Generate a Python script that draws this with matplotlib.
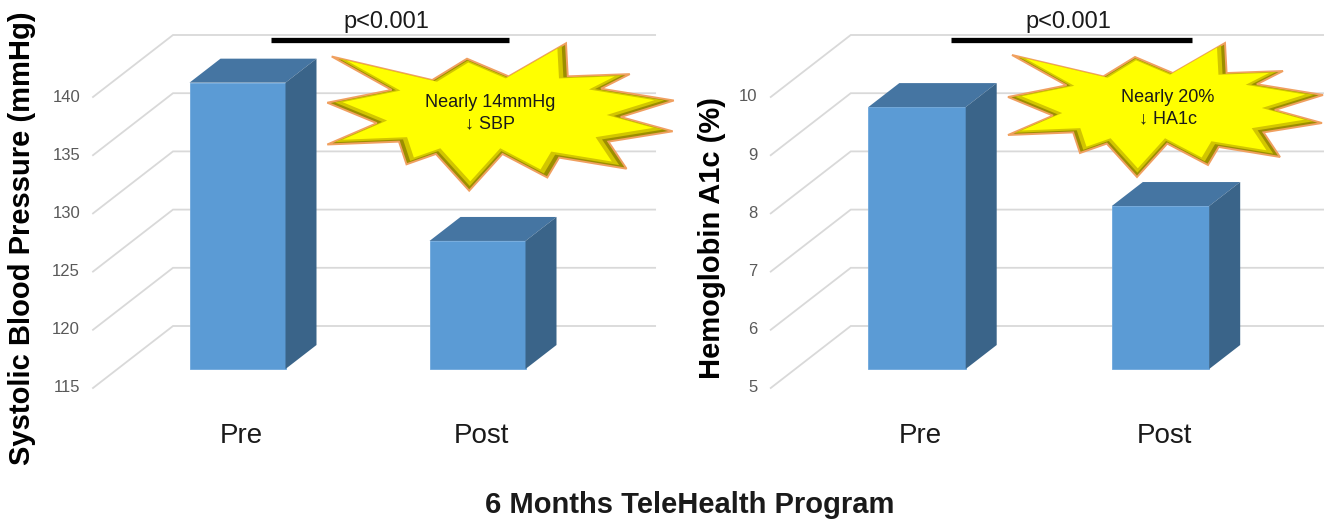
import matplotlib
matplotlib.use("Agg")
import matplotlib.pyplot as plt
from matplotlib.patches import Polygon

plt.rcParams['font.family'] = ['Liberation Sans', 'DejaVu Sans']

# data
groups = ['Pre', 'Post']
sbp = [139.6, 126.0]
hba1c = [9.5, 7.8]
sbp_ticks = [115, 120, 125, 130, 135, 140]
a1c_ticks = [5, 6, 7, 8, 9, 10]
p_text = 'p<0.001'
callouts = ['Nearly 14mmHg\n\u2193 SBP', 'Nearly 20%\n\u2193 HA1c']

W, H = 1324, 521
fig = plt.figure(figsize=(W / 100, H / 100), dpi=100)

FRONT = '#5B9BD5'
TOP = '#4575A2'
SIDE = '#3A6489'
GRID = '#D9D9D9'


def make_axes(px_left, px_right, cat0_px, step_px, base_val, base_px, px_per_val):
    ax = fig.add_axes([px_left / W, 0, (px_right - px_left) / W, 1])
    ax.set_xlim((px_left - cat0_px) / step_px, (px_right - cat0_px) / step_px)
    ax.set_ylim(base_val - (H - base_px) / px_per_val, base_val + base_px / px_per_val)
    ax.axis('off')
    ax.ux = 1.0 / step_px        # data units per pixel, x
    ax.uv = 1.0 / px_per_val     # data units per pixel, y
    ax.base = base_val
    ax.base_px = base_px
    return ax


def val_at(ax, ypx):
    return ax.base + (ax.base_px - ypx) * ax.uv


def draw_panel(ax, values, ticks, grid_end, ylabel, ylabel_x):
    ux, uv = ax.ux, ax.uv
    wall = -0.5
    # floor/back-wall gridlines
    for t in ticks:
        fx, fy = wall - 24.5 * ux, t - 19 * uv
        bx, by = wall + 55.5 * ux, t + 43 * uv
        ax.plot([fx, bx, grid_end], [fy, by, by], color=GRID, lw=1.3,
                zorder=1, solid_joinstyle='miter')
        ax.text(fx - 13 * ux, fy, str(t), ha='right', va='center',
                fontsize=12, color='#595959')

    # 3d bars
    bw = 0.4
    ddx, ddv = 31 * ux, 24 * uv
    xs = list(range(len(values)))
    ax.bar(xs, [v - ax.base for v in values], bottom=ax.base, width=bw,
           color=FRONT, zorder=3, edgecolor='#6FA8DC', linewidth=0.6)
    for x, v in zip(xs, values):
        l, r = x - bw / 2, x + bw / 2
        top = [(l, v), (r, v), (r + ddx, v + ddv), (l + ddx, v + ddv)]
        side = [(r, ax.base), (r, v), (r + ddx, v + ddv), (r + ddx, ax.base + ddv)]
        ax.add_patch(Polygon(top, closed=True, facecolor=TOP, edgecolor='none', zorder=3))
        ax.add_patch(Polygon(side, closed=True, facecolor=SIDE, edgecolor='none', zorder=3))

    # category labels
    for x, g in zip(xs, groups):
        ax.text(x + 0.015, val_at(ax, 436), g, ha='center', va='center',
                fontsize=20, color='#1a1a1a')

    # significance bar
    yb = val_at(ax, 40)
    ax.plot([0.14, 1.13], [yb, yb], color='black', lw=3.8,
            solid_capstyle='butt', zorder=4)
    ax.text(0.62, val_at(ax, 28), p_text, ha='center', va='baseline',
            fontsize=17, color='#1a1a1a')

    fig.text(ylabel_x / W, 1 - 238 / H, ylabel, rotation=90, ha='center',
             va='center', fontsize=21, fontweight='bold', color='black')


# star-burst callout shape (pixel offsets from centre, y downwards);
# every second point is an inner vertex
star = [(-153, -55), (-55, -30), (-30, -53), (7, -33), (60, -67), (55, -33),
        (118, -39), (82, -23), (158, -15), (98, 0), (157, 13), (88, 20),
        (115, 47), (48, 33), (43, 55), (2, 30), (-28, 67), (-52, 30),
        (-85, 43), (-82, 20), (-157, 25), (-100, 5), (-157, -13), (-88, -22)]


def draw_star(cx, cy, s, text, tx, ty):
    def pts(scale, ox=0, oy=0):
        out = []
        for i, (dx, dy) in enumerate(star):
            k = 1.12 if i % 2 else 1.0
            out.append(((cx + scale * k * s * dx + ox) / W,
                        1 - (cy + scale * k * s * dy + oy) / H))
        return out
    fig.add_artist(Polygon(pts(1.0), closed=True, transform=fig.transFigure,
                           facecolor='#9C8E00', edgecolor='#F0A060', lw=1.4, zorder=10))
    fig.add_artist(Polygon(pts(0.95, -1, -1), closed=True, transform=fig.transFigure,
                           facecolor='#D2C600', edgecolor='none', zorder=11))
    fig.add_artist(Polygon(pts(0.9, -2, -2), closed=True, transform=fig.transFigure,
                           facecolor='#FFFF00', edgecolor='none', zorder=12))
    fig.text(tx / W, 1 - ty / H, text, ha='center', va='center', fontsize=13,
             family=['Liberation Sans Narrow', 'Liberation Sans', 'DejaVu Sans'],
             color='#1a1a1a', linespacing=1.35, zorder=13)


ax1 = make_axes(0, 662, 237.5, 240, 115, 369, 11.64)
draw_panel(ax1, sbp, sbp_ticks, 1.74, 'Systolic Blood Pressure (mmHg)', 22)

ax2 = make_axes(662, 1324, 917, 243.5, 5, 369, 58.2)
draw_panel(ax2, hba1c, a1c_ticks, 1.68, 'Hemoglobin A1c (%)', 712)

draw_star(500, 117, 1.1, callouts[0], 490, 113)
draw_star(1165, 110, 1.0, callouts[1], 1168, 108)

fig.text(690 / W, 1 - 505 / H, '6 Months TeleHealth Program', ha='center',
         va='center', fontsize=21, fontweight='bold', color='#1a1a1a')

fig.savefig('out.png', dpi=100, facecolor='white')
